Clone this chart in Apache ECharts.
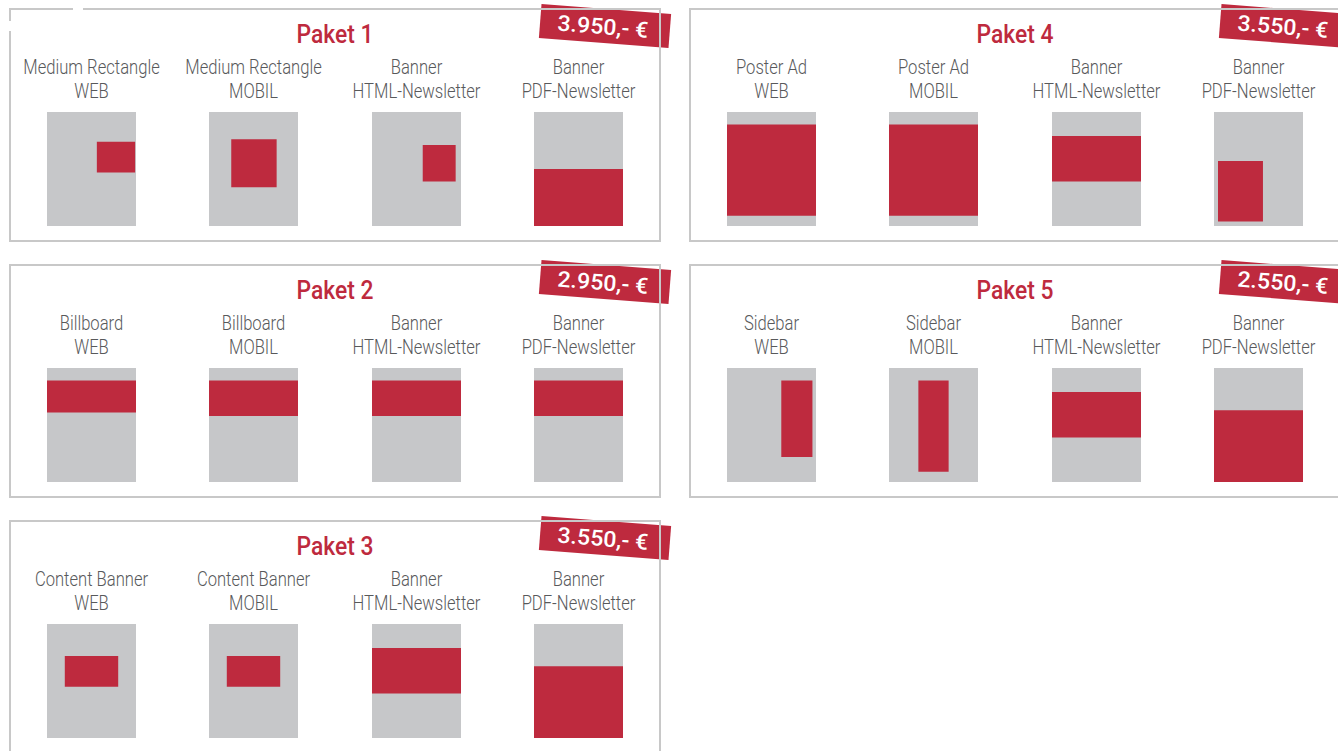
<!DOCTYPE html>
<html>
<head>
<meta charset="utf-8">
<script src="https://cdn.jsdelivr.net/npm/echarts@6/dist/echarts.min.js"></script>
<style>html,body{margin:0;padding:0;background:#fff;}#chart{width:1338px;height:751px;}</style>
</head>
<body>
<div id="chart"></div>
<script>
// ---- data ----
const panelTitles = ['Paket 1', 'Paket 2', 'Paket 3', 'Paket 4', 'Paket 5'];
const prices = ['3.950,- €', '2.950,- €', '3.550,- €', '3.550,- €', '2.550,- €'];
const formatNames = [
  ['Medium Rectangle', 'Medium Rectangle', 'Banner', 'Banner'],
  ['Billboard', 'Billboard', 'Banner', 'Banner'],
  ['Content Banner', 'Content Banner', 'Banner', 'Banner'],
  ['Poster Ad', 'Poster Ad', 'Banner', 'Banner'],
  ['Sidebar', 'Sidebar', 'Banner', 'Banner']
];
const channels = ['WEB', 'MOBIL', 'HTML-Newsletter', 'PDF-Newsletter'];
// ad area inside a page, in % of page: [xStart, xEnd, yStart(top), yEnd]
const page = [0, 100, 0, 100];
const adAreas = [
  [[56, 99, 26, 53], [25, 76, 24, 66], [57, 94, 29, 61], [0, 100, 50, 100]],
  [[0, 100, 11, 39], [0, 100, 11, 42], [0, 100, 11, 42], [0, 100, 11, 42]],
  [[20, 80, 28, 55], [20, 80, 28, 55], [0, 100, 21, 61], [0, 100, 37, 100]],
  [[0, 100, 11, 91], [0, 100, 11, 91], [0, 100, 21, 61], [4.5, 55, 43, 96]],
  [[61, 96, 11, 78], [33, 67, 11, 91], [0, 100, 21, 61], [0, 100, 37, 100]]
];

// ---- layout ----
const RED = '#BE2A3E', GRAY = '#C6C7C9', TEXT = '#58595B', BORDER = '#C8C8C8';
const panelPos = [[10, 9], [10, 265], [10, 521], [690, 9], [690, 265]];
const colX = [37, 199, 362, 524];
const PW = 89, PH = 114, PTOP = 103;
const FONT = 'Roboto, "Noto Sans", sans-serif';

// condense the installed font horizontally to match the narrow typeface
const mctx = document.createElement('canvas').getContext('2d');
function fitScale(text, weight, size, target) {
  mctx.font = weight + ' ' + size + 'px ' + FONT;
  return target / mctx.measureText(text).width;
}
const labelScale = fitScale('HTML-Newsletter', 300, 20, 128);
const titleScale = fitScale('Paket 1', 500, 25, 77);
const priceScale = fitScale('3.950,- €', 500, 22, 91);

const grids = [], xAxes = [], yAxes = [], series = [], graphics = [];

function label(x, y, text, scale, style) {
  return { type: 'text', z: 5, x: x, y: y, scaleX: scale,
    style: Object.assign({ text: text, x: 0, y: 0, align: 'center', verticalAlign: 'middle', fontFamily: FONT }, style) };
}

panelPos.forEach(function (pos, p) {
  const px = pos[0], py = pos[1];
  graphics.push({
    type: 'rect', z: 1,
    shape: { x: px, y: py, width: 650, height: 232 },
    style: { fill: 'none', stroke: BORDER, lineWidth: 2 }
  });
  graphics.push(label(px + 325, py + 26, panelTitles[p], titleScale,
    { fill: RED, fontSize: 25, fontWeight: 500 }));
  graphics.push({
    type: 'group', z: 10, x: px + 595, y: py + 17, rotation: -4.5 * Math.PI / 180,
    children: [
      { type: 'rect', shape: { x: -65, y: -17, width: 130, height: 34 }, style: { fill: RED } },
      { type: 'text', x: -2, y: 1, scaleX: priceScale,
        style: { text: prices[p], x: 0, y: 0, fill: '#fff', align: 'center', verticalAlign: 'middle',
        fontFamily: FONT, fontSize: 22, fontWeight: 500 } }
    ]
  });
  colX.forEach(function (cx, c) {
    const idx = grids.length;
    const cxm = px + cx + PW / 2;
    graphics.push(label(cxm, py + 58, formatNames[p][c], labelScale, { fill: TEXT, fontSize: 20, fontWeight: 300 }));
    graphics.push(label(cxm, py + 82, channels[c], labelScale, { fill: TEXT, fontSize: 20, fontWeight: 300 }));
    grids.push({ left: px + cx, top: py + PTOP, width: PW, height: PH, containLabel: false });
    xAxes.push({ type: 'value', gridIndex: idx, min: 0, max: 100, show: false });
    yAxes.push({ type: 'value', gridIndex: idx, min: 0, max: 100, inverse: true, show: false });
    series.push({
      type: 'custom', xAxisIndex: idx, yAxisIndex: idx, silent: true,
      encode: { x: [0, 1], y: [2, 3] },
      data: [page.concat([0]), adAreas[p][c].concat([1])],
      renderItem: function (params, api) {
        const a = api.coord([api.value(0), api.value(2)]);
        const b = api.coord([api.value(1), api.value(3)]);
        return {
          type: 'rect',
          shape: { x: Math.min(a[0], b[0]), y: Math.min(a[1], b[1]),
                   width: Math.abs(b[0] - a[0]), height: Math.abs(b[1] - a[1]) },
          style: { fill: api.value(4) === 1 ? RED : GRAY }
        };
      }
    });
  });
});
// small gaps in the first panel's frame
graphics.push({ type: 'rect', z: 2, shape: { x: 73, y: 7, width: 10, height: 5 }, style: { fill: '#fff' } });
graphics.push({ type: 'rect', z: 2, shape: { x: 8, y: 21, width: 5, height: 10 }, style: { fill: '#fff' } });

const chart = echarts.init(document.getElementById('chart'), null, { renderer: 'svg', width: 1338, height: 751 });
chart.setOption({
  animation: false,
  backgroundColor: '#fff',
  grid: grids, xAxis: xAxes, yAxis: yAxes, series: series,
  graphic: { elements: graphics }
});
</script>
</body>
</html>
